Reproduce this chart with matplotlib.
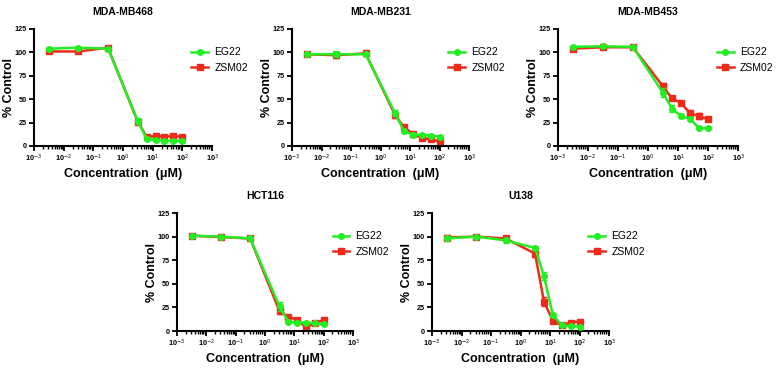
import matplotlib
matplotlib.use("Agg")
import matplotlib.pyplot as plt
import numpy as np
from matplotlib.ticker import LogLocator, FixedLocator, NullFormatter
from matplotlib.lines import Line2D

plt.rcParams['font.family'] = ['Liberation Sans', 'DejaVu Sans']

conc = [0.003125, 0.03125, 0.3125, 3.125, 6.25, 12.5, 25, 50, 100]

titles = ["MDA-MB468", "MDA-MB231", "MDA-MB453", "HCT116", "U138"]

eg22 = [
    [104, 105, 104, 27, 8, 6, 5.5, 5.5, 5.5],
    [98, 98, 98, 35, 16, 12, 12, 11, 10],
    [106, 106.5, 106, 57, 40, 32, 29, 19, 19],
    [101, 100, 98, 26, 10, 9, 9, 8, 7],
    [98, 100, 96, 88, 58, 17, 6, 5, 4.5],
]
eg22_err = [
    [1.5, 1, 1, 3, 2, 1, 1, 1, 1],
    [2, 3, 2, 3, 2, 1.5, 1, 1, 1],
    [1, 1, 1, 5, 4, 2, 1.5, 1, 1],
    [1, 1, 1, 5, 2, 1.5, 1, 1, 1],
    [3, 1, 3, 2, 4, 2, 1, 1, 1],
]
zsm02 = [
    [101, 101, 105, 26, 10, 10.5, 10, 10.5, 10],
    [98, 97, 99, 33, 20, 13, 9, 7, 5],
    [104, 105.5, 105.5, 64, 51, 46, 35, 32, 28.5],
    [101, 99.5, 98, 21, 15, 12, 4, 8, 12],
    [99, 100, 98, 82, 31, 11, 6, 9, 10],
]
zsm02_err = [
    [1.5, 1, 1, 2, 1, 1, 1, 1, 1],
    [2, 3, 3, 3, 2, 1, 1, 1, 1],
    [1, 1, 1, 3, 2, 2, 3, 3, 1.5],
    [1, 1, 1, 3, 2, 2, 2, 1, 2],
    [3, 1, 3, 4, 5, 2, 1, 1, 1],
]

GREEN = "#22EE22"
RED = "#EE2A1A"

W, H = 783, 371
fig = plt.figure(figsize=(W / 100, H / 100), dpi=100)

# axes boxes in pixels: (left, right, top, bottom)
boxes = [
    (34, 212, 29, 146),
    (292, 469, 29, 146),
    (558, 738, 29, 146),
    (177, 353, 213, 331),
    (432, 609, 213, 331),
]

for i, (l, r, t, b) in enumerate(boxes):
    ax = fig.add_axes([l / W, 1 - b / H, (r - l) / W, (b - t) / H])
    ax.errorbar(conc, zsm02[i], yerr=zsm02_err[i], color=RED, marker='s',
                markersize=4, lw=1.8, capsize=2, elinewidth=1, zorder=2)
    ax.errorbar(conc, eg22[i], yerr=eg22_err[i], color=GREEN, marker='o',
                markersize=4, lw=1.8, capsize=2, elinewidth=1, zorder=3)
    ax.set_xscale('log')
    ax.set_xlim(1e-3, 1e3)
    ax.set_ylim(0, 125)
    ax.set_yticks([0, 25, 50, 75, 100, 125])
    ax.xaxis.set_major_locator(FixedLocator([1e-3, 1e-2, 1e-1, 1, 10, 100, 1000]))
    ax.xaxis.set_minor_locator(LogLocator(base=10, subs=np.arange(2, 10), numticks=20))
    ax.xaxis.set_minor_formatter(NullFormatter())
    ax.set_xticklabels([r"10$^{-3}$", r"10$^{-2}$", r"10$^{-1}$", r"10$^{0}$",
                        r"10$^{1}$", r"10$^{2}$", r"10$^{3}$"])
    for lab in ax.get_xticklabels() + ax.get_yticklabels():
        lab.set_fontweight('bold')
    for s in ['top', 'right']:
        ax.spines[s].set_visible(False)
    for s in ['left', 'bottom']:
        ax.spines[s].set_linewidth(1.5)
    ax.tick_params(axis='both', which='major', labelsize=5.2, length=3.5, width=1.3, pad=1.5)
    ax.tick_params(axis='x', which='minor', length=2.5, width=1)
    ax.set_title(titles[i], fontsize=7.5, fontweight='bold', pad=10)
    ax.set_ylabel("% Control", fontsize=9, fontweight='bold')
    ax.yaxis.set_label_coords(-19 / (r - l), 0.5)
    ax.set_xlabel("Concentration  (\u03bcM)", fontsize=9, fontweight='bold', labelpad=3)
    handles = [
        Line2D([], [], color=GREEN, marker='o', markersize=4, lw=1.8),
        Line2D([], [], color=RED, marker='s', markersize=4, lw=1.8),
    ]
    ax.legend(handles, ["EG22", "ZSM02"],
              loc='upper left', bbox_to_anchor=(0.86, 0.88), frameon=False,
              fontsize=7.5, handlelength=1.6, handletextpad=0.6, labelspacing=0.55,
              borderaxespad=0)
    ax.set_facecolor('none')

fig.savefig("out.png", dpi=100)
